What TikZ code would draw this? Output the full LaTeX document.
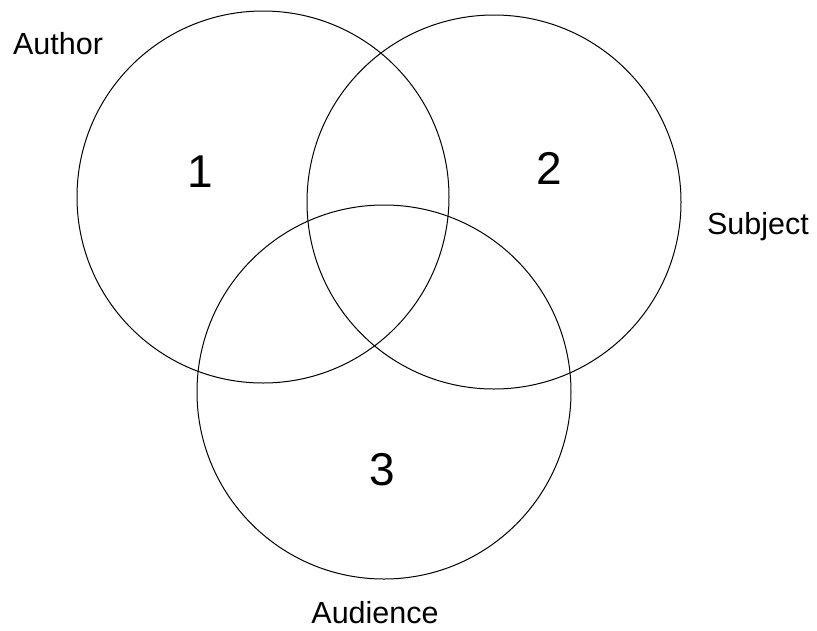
\documentclass[tikz,border=0pt]{standalone}
\usepackage{fontspec}
\setmainfont{Liberation Sans}
\begin{document}
\begin{tikzpicture}[x=1pt,y=-1pt,
  ring/.style={draw=black,line width=1pt,circle,minimum size=#1,inner sep=0pt},
  lab/.style={font=\fontsize{30.5}{32}\selectfont,inner sep=0pt},
  num/.style={font=\fontsize{46}{48}\selectfont,inner sep=0pt}]
\useasboundingbox (0,0) rectangle (817,630);
\node[ring=372pt] (c1) at (263,197) {};
\node[ring=374pt] (c2) at (494,202) {};
\node[ring=374pt] (c3) at (384,392) {};
\node[lab] (author) at (58,44) {Author};
\node[lab] (subject) at (758,227) {Subject};
\node[lab] (audience) at (375,613) {Audience};
\node[num] (n1) at (200,172) {1};
\node[num] (n2) at (549,168) {2};
\node[num] (n3) at (382,470) {3};
\end{tikzpicture}
\end{document}
